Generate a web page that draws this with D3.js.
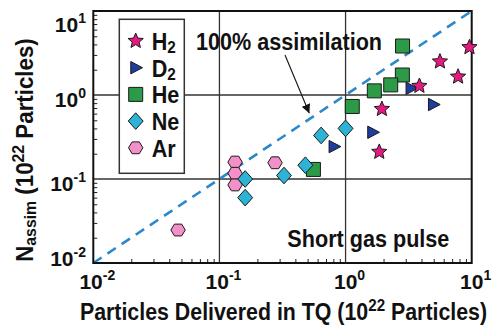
<!DOCTYPE html>
<html>
<head>
<meta charset="utf-8">
<script src="https://cdn.jsdelivr.net/npm/d3@7"></script>
<style>
  html, body { margin: 0; padding: 0; background: #fff; }
  svg { display: block; }
  text { font-family: "Liberation Sans", Arial, Helvetica, sans-serif; font-weight: bold; fill: #111; }
</style>
</head>
<body>
<svg id="chart" width="493" height="326"></svg>
<script>
// Assimilated vs. delivered particles (units of 1e22), one pair of arrays per gas
const h2Delivered = [9.6, 5.6, 7.8, 3.85, 1.94, 1.85];
const h2Assim     = [3.7, 2.5, 1.65, 1.28, 0.68, 0.21];

const d2Delivered = [3.3, 4.97, 1.64, 0.81];
const d2Assim     = [1.2, 0.77, 0.36, 0.243];

const heDelivered = [2.83, 2.82, 2.28, 1.69, 1.13, 0.556];
const heAssim     = [3.83, 1.73, 1.32, 1.12, 0.73, 0.130];

const neDelivered = [1.0, 0.64, 0.48, 0.325, 0.160, 0.160];
const neAssim     = [0.40, 0.33, 0.146, 0.110, 0.100, 0.060];

const arDelivered = [0.133, 0.133, 0.133, 0.276, 0.047];
const arAssim     = [0.159, 0.117, 0.085, 0.156, 0.0247];

// Decade tick values and their exponent labels
const decadeTicks = [0.01, 0.1, 1, 10];
const decadeExponents = ["-2", "-1", "0", "1"];

// ---- layout ----
const svg = d3.select("#chart");
const x = d3.scaleLog().domain([0.01, 10]).range([93.3, 471.7]);
const y = d3.scaleLog().domain([0.01, 10]).range([263, 11]);
const [x0, x1] = x.range();
const [y0, y1] = y.range();

// ---- marker shapes (custom d3.symbol types) ----
const starShape = {
  draw(ctx, size) {
    const R = Math.sqrt(size), r = R * 0.45;
    for (let i = 0; i < 10; i++) {
      const a = -Math.PI / 2 + i * Math.PI / 5;
      const rr = i % 2 ? r : R;
      i ? ctx.lineTo(rr * Math.cos(a), rr * Math.sin(a)) : ctx.moveTo(rr * Math.cos(a), rr * Math.sin(a));
    }
    ctx.closePath();
  }
};
const triangleRight = {
  draw(ctx, size) {
    const s = Math.sqrt(size);
    ctx.moveTo(-0.8 * s, -s);
    ctx.lineTo(1.1 * s, 0);
    ctx.lineTo(-0.8 * s, s);
    ctx.closePath();
  }
};
const squareShape = {
  draw(ctx, size) {
    const h = Math.sqrt(size);
    ctx.rect(-h, -h, 2 * h, 2 * h);
  }
};
const diamondShape = {
  draw(ctx, size) {
    const h = Math.sqrt(size), w = h * 0.9;
    ctx.moveTo(0, -h); ctx.lineTo(w, 0); ctx.lineTo(0, h); ctx.lineTo(-w, 0);
    ctx.closePath();
  }
};
const hexagonShape = {
  draw(ctx, size) {
    const a = Math.sqrt(size), b = a * 0.82;
    ctx.moveTo(-a, 0); ctx.lineTo(-a / 2, -b); ctx.lineTo(a / 2, -b);
    ctx.lineTo(a, 0); ctx.lineTo(a / 2, b); ctx.lineTo(-a / 2, b);
    ctx.closePath();
  }
};

const series = [
  { name: "H", sub: "2", xs: h2Delivered, ys: h2Assim, shape: starShape,     size: 64,  fill: "#e5197f" },
  { name: "D", sub: "2", xs: d2Delivered, ys: d2Assim, shape: triangleRight, size: 38,  fill: "#1f3d9e" },
  { name: "He", sub: "", xs: heDelivered, ys: heAssim, shape: squareShape,   size: 49,  fill: "#2c9a47" },
  { name: "Ne", sub: "", xs: neDelivered, ys: neAssim, shape: diamondShape,  size: 69,  fill: "#2cb3d5" },
  { name: "Ar", sub: "", xs: arDelivered, ys: arAssim, shape: hexagonShape,  size: 52,  fill: "#f390c9" }
];
// paint order: later entries sit on top
const paintOrder = ["He", "Ar", "Ne", "D", "H"];

// ---- grid ----
const gridVals = [0.1, 1];
svg.append("g").selectAll("line.gx").data(gridVals).join("line")
  .attr("x1", d => x(d)).attr("x2", d => x(d)).attr("y1", y0).attr("y2", y1)
  .attr("stroke", "#333").attr("stroke-width", 1.3);
svg.append("g").selectAll("line.gy").data(gridVals).join("line")
  .attr("x1", x0).attr("x2", x1).attr("y1", d => y(d)).attr("y2", d => y(d))
  .attr("stroke", "#333").attr("stroke-width", 1.3);

// ---- minor ticks (inside the frame, bottom and left) ----
const minorTicks = [];
[0.01, 0.1, 1].forEach(dec => { for (let k = 2; k <= 9; k++) minorTicks.push(dec * k); });

const xMinor = svg.append("g").attr("transform", `translate(0,${y0})`)
  .call(d3.axisBottom(x).tickValues(minorTicks).tickSize(-4).tickFormat(""));
const yMinor = svg.append("g").attr("transform", `translate(${x0},0)`)
  .call(d3.axisLeft(y).tickValues(minorTicks).tickSize(-4).tickFormat(""));
[xMinor, yMinor].forEach(g => {
  g.select(".domain").remove();
  g.selectAll(".tick line").attr("stroke", "#222").attr("stroke-width", 1);
});

// ---- 100% assimilation line (N_assim = N_delivered) ----
svg.append("line")
  .attr("x1", x(0.01)).attr("y1", y(0.01)).attr("x2", x(10)).attr("y2", y(10))
  .attr("stroke", "#2a88cc").attr("stroke-width", 2.6).attr("stroke-dasharray", "10,7");

// ---- frame ----
svg.append("rect")
  .attr("x", x0).attr("y", y1).attr("width", x1 - x0).attr("height", y0 - y1)
  .attr("fill", "none").attr("stroke", "#111").attr("stroke-width", 2);

// ---- data markers ----
const symbolGen = d3.symbol();
paintOrder.forEach(nm => {
  const s = series.find(d => d.name === nm);
  const pts = s.xs.map((v, i) => [v, s.ys[i]]);
  svg.append("g").selectAll("path").data(pts).join("path")
    .attr("transform", d => `translate(${x(d[0])},${y(d[1])})`)
    .attr("d", symbolGen.type(s.shape).size(s.size)())
    .attr("fill", s.fill).attr("stroke", "#1a1a1a").attr("stroke-width", 1);
});

// ---- annotations ----
const arrowFrom = [0.331, 2.99], arrowTo = [0.516, 0.605];
const assimLabelAt = [0.0652, 3.44];
const pulseLabelAt = [0.3455, 0.0156];

svg.append("defs").append("marker")
  .attr("id", "arrowHead").attr("viewBox", "0 0 10 10")
  .attr("refX", 10).attr("refY", 5).attr("markerWidth", 9).attr("markerHeight", 9)
  .attr("markerUnits", "userSpaceOnUse").attr("orient", "auto")
  .append("path").attr("d", "M0,0 L10,5 L0,10 Z").attr("fill", "#111");

svg.append("line")
  .attr("x1", x(arrowFrom[0])).attr("y1", y(arrowFrom[1]))
  .attr("x2", x(arrowTo[0])).attr("y2", y(arrowTo[1]))
  .attr("stroke", "#111").attr("stroke-width", 1.1)
  .attr("marker-end", "url(#arrowHead)");

svg.append("text")
  .attr("transform", `translate(${x(assimLabelAt[0])},${y(assimLabelAt[1])}) scale(0.9,1)`)
  .attr("font-size", 24).text("100% assimilation");

svg.append("text")
  .attr("transform", `translate(${x(pulseLabelAt[0])},${y(pulseLabelAt[1])}) scale(0.9,1)`)
  .attr("font-size", 24).text("Short gas pulse");

// ---- legend ----
const legend = svg.append("g");
legend.append("rect")
  .attr("x", 119.3).attr("y", 19.3).attr("width", 65).attr("height", 154)
  .attr("fill", "#fff").attr("stroke", "#333").attr("stroke-width", 1.5);
series.forEach((s, i) => {
  const base = 50 + i * 26.7;
  legend.append("path")
    .attr("transform", `translate(135.7,${base - 9})`)
    .attr("d", symbolGen.type(s.shape).size(s.size)())
    .attr("fill", s.fill).attr("stroke", "#1a1a1a").attr("stroke-width", 1);
  const t = legend.append("text")
    .attr("transform", `translate(151.7,${base}) scale(0.9,1)`)
    .attr("font-size", 24);
  t.append("tspan").text(s.name);
  if (s.sub) t.append("tspan").attr("font-size", 17).attr("dy", 3).text(s.sub);
});

// ---- decade tick labels ----
function powerLabel(sel, exp) {
  sel.append("tspan").text("10");
  sel.append("tspan").attr("font-size", 14).attr("dy", -9).text(exp);
}
decadeTicks.forEach((v, i) => {
  svg.append("text")
    .attr("x", x(v) + 4).attr("y", y0 + 26)
    .attr("text-anchor", "middle").attr("font-size", 21)
    .call(powerLabel, decadeExponents[i]);
  const ty = Math.min(Math.max(y(v) + 12, 32), 266);
  svg.append("text")
    .attr("x", 86).attr("y", ty)
    .attr("text-anchor", "end").attr("font-size", 21)
    .call(powerLabel, decadeExponents[i]);
});

// ---- axis titles ----
const xTitle = svg.append("text")
  .attr("transform", "translate(283.5,320) scale(0.89,1)")
  .attr("text-anchor", "middle").attr("font-size", 24);
xTitle.append("tspan").text("Particles Delivered in TQ (10");
xTitle.append("tspan").attr("font-size", 17).attr("dy", -9).text("22");
xTitle.append("tspan").attr("dy", 9).text(" Particles)");

const yTitle = svg.append("text")
  .attr("transform", "translate(33,150) rotate(-90) scale(0.93,1)")
  .attr("text-anchor", "middle").attr("font-size", 24);
yTitle.append("tspan").text("N");
yTitle.append("tspan").attr("font-size", 17).attr("dy", 3).text("assim");
yTitle.append("tspan").attr("dy", -3).text(" (10");
yTitle.append("tspan").attr("font-size", 17).attr("dy", -9).text("22");
yTitle.append("tspan").attr("dy", 9).text(" Particles)");
</script>
</body>
</html>
